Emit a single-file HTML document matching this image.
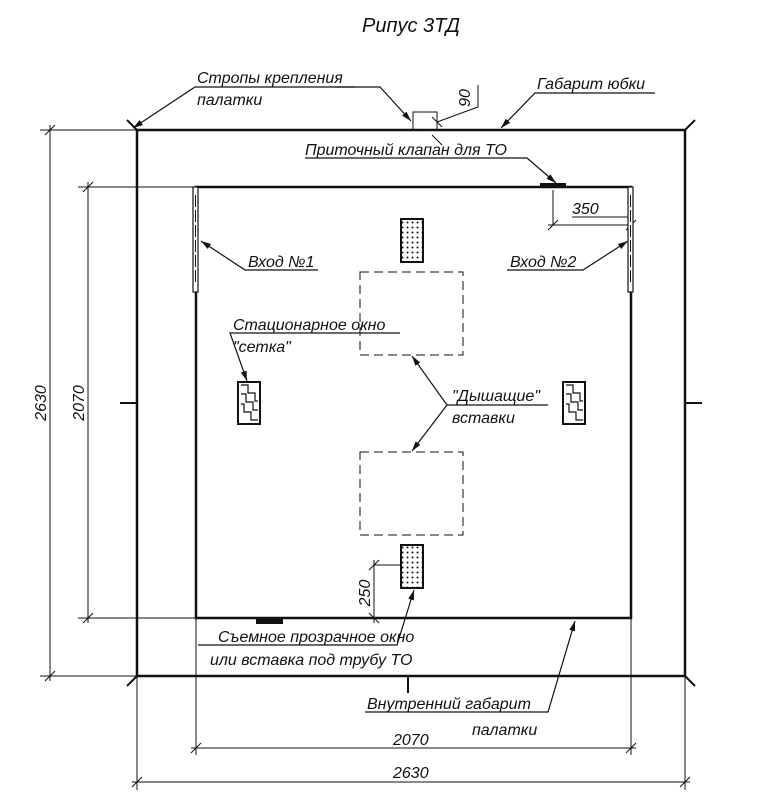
<!DOCTYPE html>
<html><head><meta charset="utf-8"><style>
body{margin:0;background:#fff}
svg text{font-family:"Liberation Sans","DejaVu Sans",sans-serif;font-style:italic;font-size:16px;fill:#111}
</style></head><body>
<svg width="780" height="800" viewBox="0 0 780 800" xmlns="http://www.w3.org/2000/svg">
<defs>
<marker id="a" markerWidth="10" markerHeight="6" refX="10" refY="3" orient="auto" markerUnits="userSpaceOnUse"><path d="M0,0 L10,3 L0,6 z" fill="#111"/></marker>
<pattern id="dots" width="5" height="5" patternUnits="userSpaceOnUse"><circle cx="2.5" cy="2.5" r="1" fill="#111"/></pattern>
</defs>
<g stroke="#111" fill="none">
<rect x="137" y="130" width="548" height="546" stroke-width="2.5"/>
<rect x="196" y="187" width="435" height="431" stroke-width="2.5"/>
<path d="M127,120 L137,130 M695,120 L685,130 M127,686 L137,676 M695,686 L685,676" stroke-width="2"/>
<path d="M120,403 H137 M685,403 H702 M408,676 V693" stroke-width="2"/>
<g stroke-width="1">
<path d="M40,130 H137 M40,676 H137 M50,125 V681 M45,135 L55,125 M45,681 L55,671"/>
<path d="M78,187 H196 M78,618 H196 M88,182 V623 M83,192 L93,182 M83,623 L93,613"/>
<path d="M196,618 V755 M631,618 V755 M191,748 H636 M191,753 L201,743 M626,753 L636,743"/>
<path d="M137,676 V790 M685,676 V790 M132,782 H690 M132,787 L142,777 M680,787 L690,777"/>
<path d="M413,130 V112 H437 V130 M437,122 L478,107 V85 M432,117 L442,127 M432,135 L442,145"/>
<path d="M553,190 V225 M548,225 H632 M548,230 L558,220 M626,230 L636,220 M572,217 H630"/>
<path d="M374,565 H401 M374,560 V623 M369,570 L379,560 M369,613 L379,623"/>
<rect x="360" y="272" width="103" height="83" stroke-dasharray="9,5"/>
<rect x="360" y="452" width="103" height="83" stroke-dasharray="9,5"/>
</g>
<rect x="193" y="187" width="5" height="105" stroke-width="1.2" fill="#fff"/>
<path d="M195.5,195 V285" stroke-width="1" stroke-dasharray="12,3"/>
<rect x="628" y="187" width="5" height="105" stroke-width="1.2" fill="#fff"/>
<path d="M630.5,195 V285" stroke-width="1" stroke-dasharray="12,3"/>
<rect x="401" y="219" width="22" height="43" stroke-width="2" fill="url(#dots)"/>
<rect x="401" y="545" width="22" height="43" stroke-width="2" fill="url(#dots)"/>
<rect x="238" y="382" width="22" height="42" stroke-width="2"/>
<path d="M241,385 H248 V393 H255 V401 H258 M241,394 H246 V402 H253 V410 H258 M241,404 H244 V412 H251 V420 H258" stroke-width="1.2"/>
<rect x="563" y="382" width="22" height="42" stroke-width="2"/>
<path d="M566,385 H573 V393 H580 V401 H583 M566,394 H571 V402 H578 V410 H583 M566,404 H569 V412 H576 V420 H583" stroke-width="1.2"/>
<rect x="540" y="183" width="26" height="5" fill="#111" stroke="none"/>
<rect x="256" y="618" width="27" height="6" fill="#111" stroke="none"/>
<g stroke-width="1.2">
<path d="M355,87 H195 L133,128" marker-end="url(#a)"/>
<path d="M335,87 L380,87 L411,121" marker-end="url(#a)"/>
<path d="M655,93 H535 L501,128" marker-end="url(#a)"/>
<path d="M305,158 H527 L556,183" marker-end="url(#a)"/>
<path d="M318,270 H245 L201,241" marker-end="url(#a)"/>
<path d="M507,270 H583 L628,241" marker-end="url(#a)"/>
<path d="M400,333 H230 L247,381" marker-end="url(#a)"/>
<path d="M548,405 H447 L412,356" marker-end="url(#a)"/>
<path d="M447,405 L412,451" marker-end="url(#a)"/>
<path d="M198,645 H397 L414,590" marker-end="url(#a)"/>
<path d="M365,712 H548 L575,621" marker-end="url(#a)"/>
</g>
</g>
<text x="362" y="32" style="font-size:20px">Рипус 3ТД</text>
<text x="197" y="83">Стропы крепления</text>
<text x="197" y="105">палатки</text>
<text x="537" y="89">Габарит юбки</text>
<text x="305" y="155">Приточный клапан для ТО</text>
<text x="572" y="214">350</text>
<text x="248" y="267">Вход №1</text>
<text x="510" y="267">Вход №2</text>
<text x="233" y="330">Стационарное окно</text>
<text x="233" y="352">"сетка"</text>
<text x="452" y="401">"Дышащие"</text>
<text x="452" y="423">вставки</text>
<text x="218" y="642">Съемное прозрачное окно</text>
<text x="210" y="665">или вставка под трубу ТО</text>
<text x="367" y="709">Внутренний габарит</text>
<text x="472" y="735">палатки</text>
<text x="393" y="745">2070</text>
<text x="393" y="778">2630</text>
<text transform="translate(46,403) rotate(-90)" text-anchor="middle">2630</text>
<text transform="translate(84,403) rotate(-90)" text-anchor="middle">2070</text>
<text transform="translate(470,98) rotate(-90)" text-anchor="middle">90</text>
<text transform="translate(370,593) rotate(-90)" text-anchor="middle">250</text>
</svg>
</body></html>
